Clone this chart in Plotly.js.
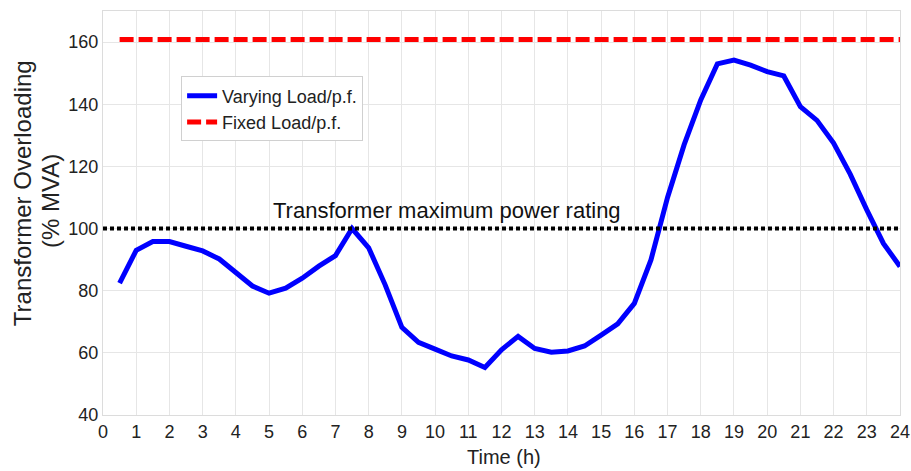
<!DOCTYPE html>
<html><head><meta charset="utf-8">
<script src="https://cdn.plot.ly/plotly-3.0.1.min.js"></script>
<style>html,body{margin:0;padding:0;background:#fff}#c{width:911px;height:471px}</style>
</head><body><div id="c"></div>
<script>
var hours = [0.5,1,1.5,2,2.5,3,3.5,4,4.5,5,5.5,6,6.5,7,7.5,8,8.5,9,9.5,10,10.5,11,11.5,12,12.5,13,13.5,14,14.5,15,15.5,16,16.5,17,17.5,18,18.5,19,19.5,20,20.5,21,21.5,22,22.5,23,23.5,24];
var varyingLoad = [82.4,93,95.8,95.8,94.3,92.8,90.2,86,81.5,79.2,80.8,84,87.9,91.3,100,93.8,81.8,68.2,63.4,61.2,59,57.7,55.3,61,65.3,61.4,60.2,60.6,62.2,65.7,69.3,75.9,89.9,110,127,141.4,153,154.2,152.6,150.5,149.1,139.2,134.8,127.5,117.5,106,95.2,87.8];
var fixedX = [0.5,24];
var fixedLoad = [160.8,160.8];
var ratingX = [0,24];
var ratingLevel = [100,100];
var xTicks = [0,1,2,3,4,5,6,7,8,9,10,11,12,13,14,15,16,17,18,19,20,21,22,23,24];
var yTicks = [40,60,80,100,120,140,160];
var labels = {varying:'Varying Load/p.f.', fixed:'Fixed Load/p.f.', rating:'Transformer maximum power rating',
              yTitle1:'Transformer Overloading', yTitle2:'(% MVA)', xTitle:'Time (h)'};

var font = 'Liberation Sans, Arial, sans-serif';
var traces = [
  {x: hours, y: varyingLoad, mode:'lines', name: labels.varying, line:{color:'#0000ff', width:5}},
  {x: fixedX, y: fixedLoad, mode:'lines', name: labels.fixed, line:{color:'#ff0000', width:5, dash:'14px,5px'}},
  {x: ratingX, y: ratingLevel, mode:'lines', showlegend:false, line:{color:'#000000', width:4, dash:'4px,3px'}}
];
var layout = {
  width:911, height:471,
  margin:{l:103, r:11, t:11, b:56},
  paper_bgcolor:'#fff', plot_bgcolor:'#fff',
  font:{family:font, size:18, color:'#222'},
  xaxis:{range:[0,24], tickvals:xTicks, ticktext:xTicks.map(String), showgrid:true, gridcolor:'#e6e6e6', gridwidth:1,
         zeroline:false, showline:true, linecolor:'#dcdcdc', mirror:true, ticks:'', tickfont:{size:18}},
  yaxis:{range:[40,170], tickvals:yTicks, showgrid:true, gridcolor:'#e6e6e6', gridwidth:1,
         zeroline:false, showline:true, linecolor:'#dcdcdc', mirror:true, ticks:'', tickfont:{size:18}},
  legend:{x:0.098, y:0.838, xanchor:'left', yanchor:'top', bgcolor:'#fff', bordercolor:'#d0d0d0', borderwidth:1,
          font:{size:18, color:'#222'}, tracegroupgap:0},
  annotations:[
    {x:10.36, y:100, xref:'x', yref:'y', text:labels.rating, showarrow:false, yanchor:'middle', yshift:18,
     font:{size:22, color:'#111'}},
    {x:(22.7-103)/797, y:(415-193.5)/404, xref:'paper', yref:'paper', text:labels.yTitle1, textangle:-90, showarrow:false,
     xanchor:'center', yanchor:'middle', font:{size:24, color:'#222'}},
    {x:(50-103)/797, y:(415-201)/404, xref:'paper', yref:'paper', text:labels.yTitle2, textangle:-90, showarrow:false,
     xanchor:'center', yanchor:'middle', font:{size:24, color:'#222'}},
    {x:(504-103)/797, y:(415-457)/404, xref:'paper', yref:'paper', text:labels.xTitle, showarrow:false,
     xanchor:'center', yanchor:'middle', font:{size:20, color:'#222'}}
  ],
  showlegend:true
};
Plotly.newPlot('c', traces, layout, {displayModeBar:false, staticPlot:true});
</script></body></html>
